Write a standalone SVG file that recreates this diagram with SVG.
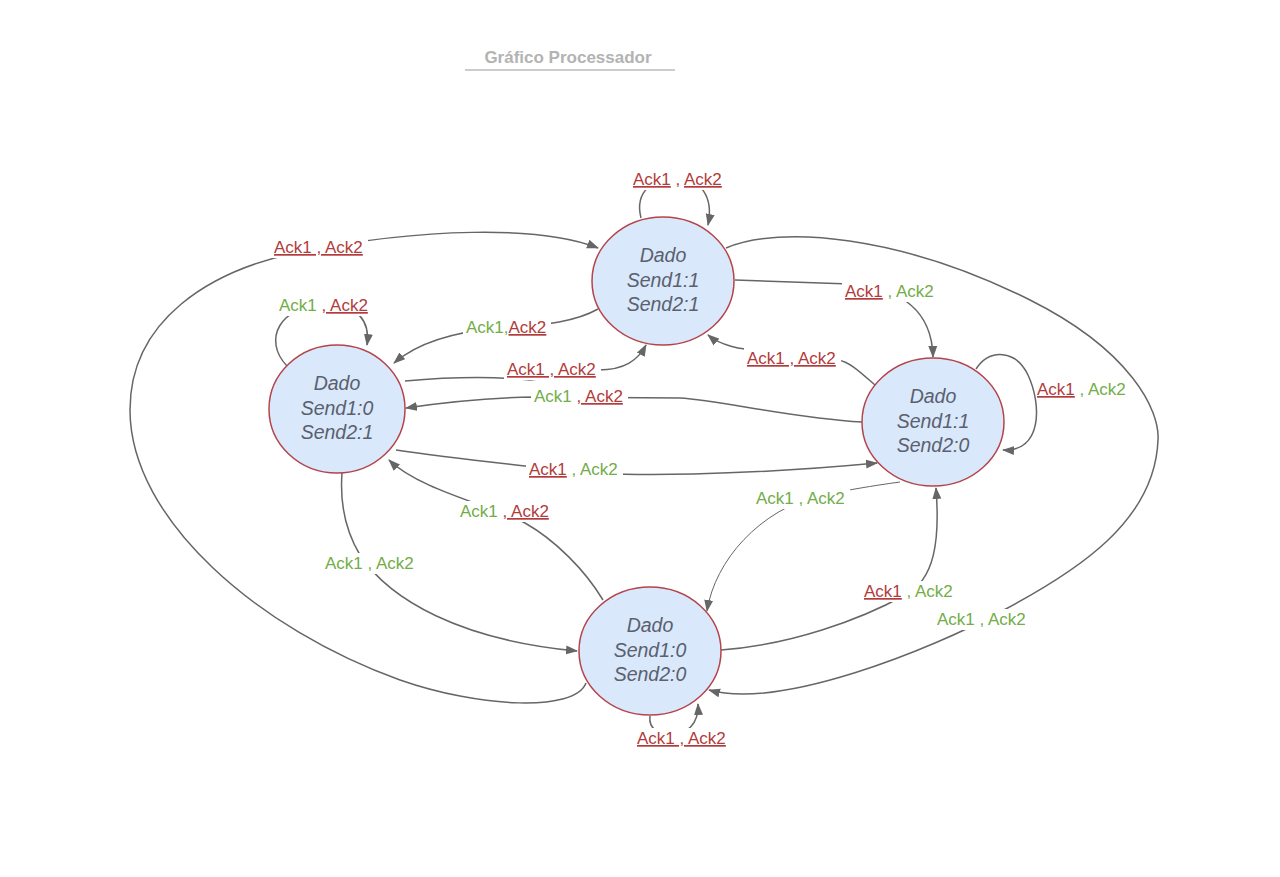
<svg xmlns="http://www.w3.org/2000/svg" width="1280" height="877" viewBox="0 0 1280 877">
<style>
.bg{fill:#ffffff}
.node ellipse{fill:#d9e8fb;stroke:#b5434a;stroke-width:1.5}
.node text{font-family:"Liberation Sans",Arial,sans-serif;font-style:italic;font-size:19.5px;fill:#5a606d;text-anchor:middle}
.edge{fill:none;stroke:#666666;stroke-width:1.5;marker-end:url(#arr)}
.thin{stroke-width:1}
.lbl{font-family:"Liberation Sans",Arial,sans-serif;font-size:17px}
.r{fill:#b23b3b}
.g{fill:#72ad47}
.u{text-decoration:underline}
.mask{fill:#ffffff}
</style>
<defs>
<marker id="arr" viewBox="0 0 12 10" refX="11" refY="5" markerWidth="12" markerHeight="10" markerUnits="userSpaceOnUse" orient="auto">
<path d="M0,0.5 L12,5 L0,9.5 z" fill="#666666"/>
</marker>
</defs>
<rect class="bg" x="0" y="0" width="1280" height="877"/>
<g id="title">
<text x="568" y="63" font-family="'Liberation Sans',Arial,sans-serif" font-weight="bold" font-size="17" fill="#b3b3b3" text-anchor="middle">Gráfico Processador</text>
<line x1="465" y1="70" x2="675" y2="70" stroke="#bbbbbb" stroke-width="1.5"/>
</g>
<g id="connectors">
<path class="edge" d="M641 218 C634 190 655 178 676 178 C700 178 714 196 708 225"/>
<path class="edge" d="M287 366 C262 340 280 305 325 305 C360 305 370 322 367 345"/>
<path class="edge" d="M976 369 C990 348 1016 350 1028 375 C1042 405 1042 452 1003 450"/>
<path class="edge" d="M650 716 C646 742 700 745 698 704"/>
<path class="edge" d="M586 683 C575 712 480 708 400 680 C260 630 130 520 130 410 C130 320 210 270 300 252 C420 228 540 225 598 248"/>
<path class="edge" d="M726 248 C780 225 900 235 1030 300 C1130 350 1160 410 1158 440 C1155 520 1080 570 1000 612 C930 650 780 710 709 690"/>
<path class="edge" d="M598 309 C570 325 530 325 500 328 C450 332 415 345 394 363"/>
<path class="edge" d="M405 381 C450 377 490 376 530 380 C560 376 580 370 598 370 C625 370 638 360 646 345"/>
<path class="edge" d="M862 422 C790 418 720 400 680 398 L534 397 C480 398 440 403 406 408"/>
<path class="edge" d="M396 450 C450 458 500 463 560 470 C620 478 750 475 877 463"/>
<path class="edge" d="M735 280 L850 284 C900 288 932 310 933 357"/>
<path class="edge" d="M875 385 C860 372 850 362 838 360 L760 350 C740 350 720 345 708 335"/>
<path class="edge" d="M603 600 C585 570 555 540 525 523 C490 505 420 490 389 460"/>
<path class="edge" d="M342 473 C340 500 345 530 360 555 C390 600 460 640 577 651"/>
<path class="edge" d="M721 650 C790 645 860 620 905 595 C935 580 940 540 936 488"/>
<path class="edge thin" d="M900 482 C870 486 850 490 820 495 C760 510 715 560 707 611"/>
</g>
<g id="labels" class="lbl">
<rect class="mask" x="630" y="169" width="97" height="21"/>
<text x="633" y="185"><tspan class="r u">Ack1</tspan><tspan class="r"> , </tspan><tspan class="r u">Ack2</tspan></text>
<rect class="mask" x="276" y="295" width="97" height="21"/>
<text x="279" y="311"><tspan class="g">Ack1 </tspan><tspan class="r u">, Ack2</tspan></text>
<text x="1037" y="395"><tspan class="r u">Ack1</tspan><tspan class="g"> , Ack2</tspan></text>
<rect class="mask" x="634" y="728" width="97" height="21"/>
<text x="637" y="744"><tspan class="r u">Ack1 , Ack2</tspan></text>
<rect class="mask" x="271" y="237" width="97" height="21"/>
<text x="274" y="253"><tspan class="r u">Ack1 , Ack2</tspan></text>
<rect class="mask" x="932" y="609" width="99" height="21"/>
<text x="937" y="625"><tspan class="g">Ack1 , Ack2</tspan></text>
<rect class="mask" x="463" y="317" width="88" height="21"/>
<text x="466" y="333"><tspan class="g">Ack1,</tspan><tspan class="r u">Ack2</tspan></text>
<rect class="mask" x="504" y="359" width="97" height="21"/>
<text x="507" y="375"><tspan class="r u">Ack1 , Ack2</tspan></text>
<rect class="mask" x="531" y="386" width="97" height="21"/>
<text x="534" y="402"><tspan class="g">Ack1 </tspan><tspan class="r u">, Ack2</tspan></text>
<rect class="mask" x="526" y="459" width="97" height="21"/>
<text x="529" y="475"><tspan class="r u">Ack1</tspan><tspan class="g"> , Ack2</tspan></text>
<rect class="mask" x="842" y="281" width="97" height="21"/>
<text x="845" y="297"><tspan class="r u">Ack1</tspan><tspan class="g"> , Ack2</tspan></text>
<rect class="mask" x="744" y="348" width="97" height="21"/>
<text x="747" y="364"><tspan class="r u">Ack1 , Ack2</tspan></text>
<rect class="mask" x="457" y="501" width="97" height="21"/>
<text x="460" y="517"><tspan class="g">Ack1 </tspan><tspan class="r u">, Ack2</tspan></text>
<rect class="mask" x="322" y="553" width="97" height="21"/>
<text x="325" y="569"><tspan class="g">Ack1 , Ack2</tspan></text>
<rect class="mask" x="861" y="581" width="97" height="21"/>
<text x="864" y="597"><tspan class="r u">Ack1</tspan><tspan class="g"> , Ack2</tspan></text>
<rect class="mask" x="753" y="488" width="97" height="21"/>
<text x="756" y="504"><tspan class="g">Ack1 , Ack2</tspan></text>
</g>
<g id="node-s11" class="node">
<ellipse cx="663" cy="281" rx="71" ry="64"/>
<text x="663" y="262">Dado</text>
<text x="663" y="287">Send1:1</text>
<text x="663" y="311">Send2:1</text>
</g>
<g id="node-s01" class="node">
<ellipse cx="337" cy="409" rx="68" ry="64"/>
<text x="337" y="390">Dado</text>
<text x="337" y="415">Send1:0</text>
<text x="337" y="439">Send2:1</text>
</g>
<g id="node-s10" class="node">
<ellipse cx="933" cy="422" rx="71" ry="64"/>
<text x="933" y="403">Dado</text>
<text x="933" y="428">Send1:1</text>
<text x="933" y="452">Send2:0</text>
</g>
<g id="node-s00" class="node">
<ellipse cx="650" cy="651" rx="71" ry="64"/>
<text x="650" y="632">Dado</text>
<text x="650" y="657">Send1:0</text>
<text x="650" y="681">Send2:0</text>
</g>
</svg>
